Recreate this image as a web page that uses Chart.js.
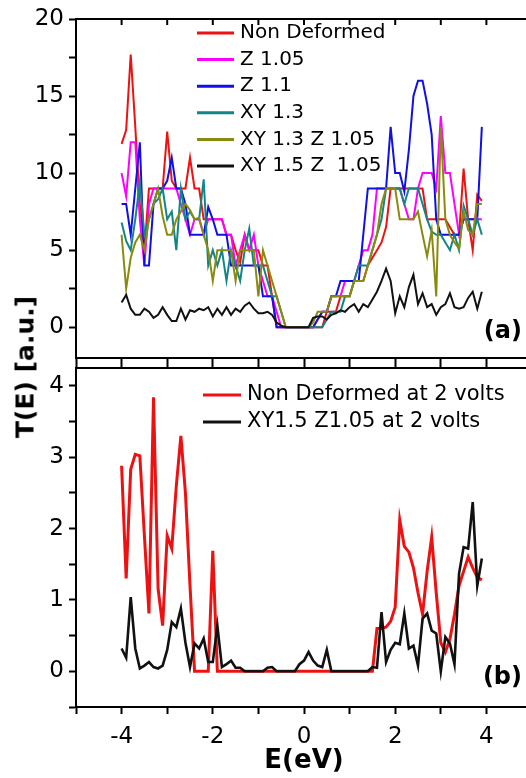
<!DOCTYPE html>
<html>
<head>
<meta charset="utf-8">
<script src="https://cdn.jsdelivr.net/npm/chart.js@4.4.1/dist/chart.umd.min.js"></script>
<style>
  body { margin: 0; background: #fff; overflow: hidden; }
  #wrap { position: relative; width: 526px; height: 778px; overflow: hidden; background: #fff; }
  canvas { position: absolute; left: 0; }
  #ytitle {
    position: absolute; left: 25px; top: 367px;
    transform: translate(-50%, -50%) rotate(-90deg);
    font: bold 25px "DejaVu Sans", sans-serif; white-space: nowrap; color: #000;
  }
</style>
</head>
<body>
<div id="wrap">
  <canvas id="topChart" width="532" height="367" style="top:0"></canvas>
  <canvas id="botChart" width="532" height="411" style="top:367px"></canvas>
  <div id="ytitle">T(E) [a.u.]</div>
</div>
<script>
// energy grid E (eV)
const energies = [
  -4.0, -3.9, -3.8, -3.7, -3.6, -3.5, -3.4, -3.3, -3.2, -3.1,
  -3.0, -2.9, -2.8, -2.7, -2.6, -2.5, -2.4, -2.3, -2.2, -2.1,
  -2.0, -1.9, -1.8, -1.7, -1.6, -1.5, -1.4, -1.3, -1.2, -1.1,
  -1.0, -0.9, -0.8, -0.7, -0.6, -0.5, -0.4, -0.3, -0.2, -0.1,
  0.0, 0.1, 0.2, 0.3, 0.4, 0.5, 0.6, 0.7, 0.8, 0.9,
  1.0, 1.1, 1.2, 1.3, 1.4, 1.5, 1.6, 1.7, 1.8, 1.9,
  2.0, 2.1, 2.2, 2.3, 2.4, 2.5, 2.6, 2.7, 2.8, 2.9,
  3.0, 3.1, 3.2, 3.3, 3.4, 3.5, 3.6, 3.7, 3.8, 3.9
];

// panel (a)
const labelsA = ["Non Deformed", "Z 1.05", "Z 1.1", "XY 1.3", "XY 1.3 Z 1.05", "XY 1.5 Z  1.05"];
const colorsA = ["#ee1111", "#ff00ff", "#1010e6", "#138585", "#8a8a10", "#111111"];

const nonDeformed = [
  11.9, 12.8, 17.7, 13, 8, 5, 9, 9, 9, 9,
  12.7, 9.5, 9, 9, 9, 11, 9, 9, 7, 7,
  7, 7, 7, 6, 6, 5, 4.2, 6, 5, 5,
  5, 4, 4, 2, 0, 0, 0, 0, 0, 0,
  0, 0, 0, 0, 0, 1, 1, 1, 2, 2,
  2, 3, 3, 3, 4, 4.5, 5, 5.5, 6.5, 9,
  9, 9, 9, 9, 9, 9, 9, 7, 7, 7,
  7, 7, 6.5, 6, 6, 10.3, 7, 5, 8.6, 8.2
];
const z105 = [
  10, 8.5, 12, 12, 7, 4, 8, 9, 9, 9,
  9, 9, 9, 8, 7, 6, 7, 7, 6, 7,
  7, 7, 7, 6, 6, 4, 5, 6, 5, 6,
  4, 3, 2, 2, 1, 0, 0, 0, 0, 0,
  0, 0, 0, 0.5, 1, 1, 2, 2, 2, 3,
  3, 3, 4, 5, 5, 6, 9, 9, 9, 9,
  9, 9, 8, 7, 7, 9, 10, 10, 10, 9,
  13.7, 10, 10, 8, 6, 7, 7, 7, 7, 7
];
const z11 = [
  8, 8, 6, 9, 12, 4, 4, 8, 9, 9,
  9.5, 11, 9, 9, 8, 6, 6, 6, 6, 7.8,
  7, 6, 6, 6, 4, 4, 4, 4, 4, 4,
  4, 2, 2, 2, 0, 0, 0, 0, 0, 0,
  0, 0, 0, 0.5, 1, 1, 2, 2, 3, 3,
  3, 3, 3, 6, 9, 9, 9, 9, 9, 13,
  10, 10, 8.8, 11.5, 15, 16, 16, 14.5, 12.5, 7,
  6, 6, 6, 6, 6, 7, 7, 7, 7, 13
];
const xy13 = [
  6.8, 5.6, 5, 7, 9.4, 6, 7, 8, 8.3, 9,
  7, 7.5, 5, 9, 7, 7.5, 7, 7, 9.6, 4,
  5, 4, 5, 3, 5, 4, 3, 5, 6.4, 4,
  4, 4, 3, 2, 2, 1, 0, 0, 0, 0,
  0, 0, 0, 0, 0, 0.5, 1, 1, 1, 2,
  2, 3, 4, 4, 4, 5, 6, 7, 9, 9,
  9, 9, 8, 9, 9, 9, 8, 7, 6.2, 6,
  6, 5.5, 5, 6, 5, 7.9, 7, 6, 7, 6
];
const xy13z105 = [
  6, 2.5, 4.5, 5.5, 6, 5, 7, 8, 9, 7.2,
  6, 6, 7, 7.5, 8, 7.6, 7, 7.1, 6, 5,
  3, 5, 5, 5, 5, 3, 5, 5, 5, 5,
  2, 5, 4, 3, 2, 1, 0, 0, 0, 0,
  0, 0, 0.3, 1, 1, 1, 2, 2, 2, 2,
  2, 3, 3, 3, 4, 5, 6, 8, 9, 9,
  9, 7, 7, 7, 7, 7.5, 6, 4.6, 6.3, 2,
  13, 7, 6, 5.5, 5.1, 7.5, 6.3, 6, 8, 8
];
const xy15z105 = [
  1.6, 2.1, 1.2, 0.8, 0.8, 1.2, 1.0, 0.6, 0.8, 1.3,
  0.8, 0.4, 0.4, 1.2, 0.5, 1.1, 1.0, 1.2, 1.1, 1.3,
  0.7, 1.2, 0.8, 1.3, 0.8, 1.2, 1.0, 1.4, 1.6, 1.2,
  0.9, 0.9, 1.0, 0.8, 0.3, 0.1, 0, 0, 0, 0,
  0, 0, 0.6, 0.7, 0.7, 0.5, 0.8, 0.9, 1.1, 1.0,
  1.3, 1.5, 1.0, 1.5, 1.3, 1.8, 2.3, 3.0, 3.8, 3.0,
  0.9, 2.0, 1.3, 2.6, 3.4, 1.5, 2.2, 1.3, 1.5, 0.8,
  1.3, 1.5, 2.2, 1.3, 1.2, 1.3, 1.9, 2.3, 1.2, 2.3
];

// panel (b), at 2 volts
const labelsB = ["Non Deformed at 2 volts", "XY1.5 Z1.05 at 2 volts"];
const colorsB = ["#ee1111", "#111111"];

const nonDeformed2V = [
  2.88, 1.3, 2.83, 3.04, 3.02, 1.9, 0.81, 3.84, 1.16, 0.64,
  1.9, 1.72, 2.6, 3.3, 2.5, 1.2, 0, 0, 0, 0,
  1.69, 0, 0, 0, 0, 0, 0, 0, 0, 0,
  0, 0, 0, 0, 0, 0, 0, 0, 0, 0,
  0, 0, 0, 0, 0, 0, 0, 0, 0, 0,
  0, 0, 0, 0, 0, 0, 0.6, 0.6, 0.62, 0.7,
  0.9, 2.12, 1.75, 1.67, 1.45, 1.1, 0.8, 1.4, 1.88, 1.1,
  0.4, 0.27, 0.45, 0.8, 1.2, 1.4, 1.6, 1.45, 1.32, 1.28
];
const xy15z105_2V = [
  0.32, 0.19, 1.04, 0.32, 0.04, 0.08, 0.13, 0.06, 0.04, 0.08,
  0.3, 0.69, 0.62, 0.88, 0.4, 0.06, 0.39, 0.32, 0.46, 0.13,
  0.13, 0.64, 0.06, 0.1, 0.15, 0.05, 0.05, 0, 0, 0,
  0, 0, 0.05, 0.06, 0, 0, 0, 0, 0, 0.1,
  0.15, 0.27, 0.15, 0.08, 0.06, 0.3, 0, 0, 0, 0,
  0, 0, 0, 0, 0, 0.06, 0.05, 0.83, 0.13, 0.3,
  0.4, 0.38, 0.81, 0.32, 0.36, 0.08, 0.74, 0.81, 0.57, 0.53,
  0, 0.48, 0.39, 0.1, 1.37, 1.74, 1.72, 2.37, 1.2, 1.58
];

const tickFont = { family: "DejaVu Sans", size: 23 };

function toPoints(ys) {
  return energies.map((e, i) => ({ x: e, y: ys[i] }));
}

// scales must not push the plot area around with label overhang
function noOverhang(s) {
  s.paddingTop = 0;
  s.paddingBottom = 0;
  s.paddingLeft = 0;
  s.paddingRight = 0;
}

// legend, inward ticks and panel tag
const panelDecor = {
  id: "panelDecor",
  afterDraw(chart, args, opts) {
    const ctx = chart.ctx;
    const area = chart.chartArea;
    ctx.save();
    if (opts.topTicks) {
      const xs = chart.scales.x;
      ctx.strokeStyle = "#000";
      ctx.lineWidth = 2;
      for (let v = -4; v <= 4; v++) {
        const px = xs.getPixelForValue(v);
        ctx.beginPath();
        ctx.moveTo(px, area.top);
        ctx.lineTo(px, area.top + 6);
        ctx.stroke();
      }
    }
    ctx.font = opts.legendFont;
    ctx.textBaseline = "middle";
    ctx.textAlign = "left";
    chart.data.datasets.forEach((ds, i) => {
      const y = opts.legendY + i * opts.legendGap;
      ctx.strokeStyle = ds.borderColor;
      ctx.lineWidth = 3;
      ctx.beginPath();
      ctx.moveTo(opts.legendX, y);
      ctx.lineTo(opts.legendX + opts.legendLen, y);
      ctx.stroke();
      ctx.fillStyle = "#000";
      ctx.fillText(ds.label, opts.legendX + opts.legendLen + 6, y);
    });
    ctx.font = 'bold 24px "DejaVu Sans"';
    ctx.textAlign = "right";
    ctx.fillStyle = "#000";
    ctx.fillText(opts.tag, area.right - 10, area.bottom - opts.tagOffset);
    ctx.restore();
  }
};

function makeScales(yMin, yMax, yStep, yLabelEvery, bottomAxis) {
  return {
    x: Object.assign({
      type: "linear", position: "bottom", min: -5, max: 5,
      ticks: bottomAxis.ticks,
      grid: { drawOnChartArea: false, tickLength: bottomAxis.tickLength, tickWidth: 2, tickColor: "#000" },
      border: { color: "#000", width: 2 },
      afterFit: (s) => { s.height = bottomAxis.height; noOverhang(s); }
    }, bottomAxis.extra || {}),
    x2: {
      type: "linear", position: "top", min: -5, max: 5,
      ticks: { display: false }, grid: { display: false },
      border: { color: "#000", width: 2 },
      afterFit: (s) => { s.height = 0; noOverhang(s); }
    },
    y: {
      min: yMin, max: yMax,
      ticks: {
        stepSize: yStep, includeBounds: false, color: "#000", font: tickFont, padding: 5,
        callback: (v) => (Math.abs(v % yLabelEvery) < 1e-9 ? String(v) : "")
      },
      grid: { drawOnChartArea: false, tickLength: 7, tickWidth: 2, tickColor: "#000" },
      border: { color: "#000", width: 2 },
      afterFit: (s) => { s.width = 76; noOverhang(s); }
    }
  };
}

const seriesA = [nonDeformed, z105, z11, xy13, xy13z105, xy15z105];
const topConfig = {
  type: "line",
  data: {
    datasets: seriesA.map((ys, i) => ({
      label: labelsA[i],
      data: toPoints(ys),
      borderColor: colorsA[i],
      borderWidth: 2,
      pointRadius: 0,
      tension: 0,
      order: seriesA.length - i // later series drawn on top
    }))
  },
  options: {
    responsive: false,
    animation: false,
    layout: { padding: { top: 19, left: 0, right: 0, bottom: 0 } },
    plugins: {
      legend: { display: false },
      tooltip: { enabled: false },
      panelDecor: {
        topTicks: true, legendFont: '20px "DejaVu Sans"',
        legendX: 197, legendLen: 37, legendY: 33, legendGap: 26.6,
        tag: "(a)", tagOffset: 26
      }
    },
    scales: makeScales(-2, 20, 2.5, 5, {
      height: 9, tickLength: 9,
      ticks: { stepSize: 1, autoSkip: false, callback: () => "" }
    })
  },
  plugins: [panelDecor]
};

const seriesB = [nonDeformed2V, xy15z105_2V];
const botConfig = {
  type: "line",
  data: {
    datasets: seriesB.map((ys, i) => ({
      label: labelsB[i],
      data: toPoints(ys),
      borderColor: colorsB[i],
      borderWidth: i === 0 ? 3 : 2.6,
      pointRadius: 0,
      tension: 0,
      order: seriesB.length - i
    }))
  },
  options: {
    responsive: false,
    animation: false,
    layout: { padding: { top: 1, left: 0, right: 0, bottom: 0 } },
    plugins: {
      legend: { display: false },
      tooltip: { enabled: false },
      panelDecor: {
        topTicks: false, legendFont: '21px "DejaVu Sans"',
        legendX: 203, legendLen: 38, legendY: 28, legendGap: 27,
        tag: "(b)", tagOffset: 29
      }
    },
    scales: makeScales(-0.5, 4.25, 0.5, 1, {
      height: 71, tickLength: 7,
      ticks: {
        stepSize: 1, autoSkip: false, maxRotation: 0, color: "#000", font: tickFont, padding: 9,
        callback: (v) => (v % 2 === 0 ? String(v) : "")
      },
      extra: {
        title: {
          display: true, text: "E(eV)", color: "#000",
          font: { family: "DejaVu Sans", size: 26, weight: "bold" },
          padding: { top: 0, bottom: 1 }
        }
      }
    })
  },
  plugins: [panelDecor]
};

new Chart(document.getElementById("topChart"), topConfig);
new Chart(document.getElementById("botChart"), botConfig);
</script>
</body>
</html>
